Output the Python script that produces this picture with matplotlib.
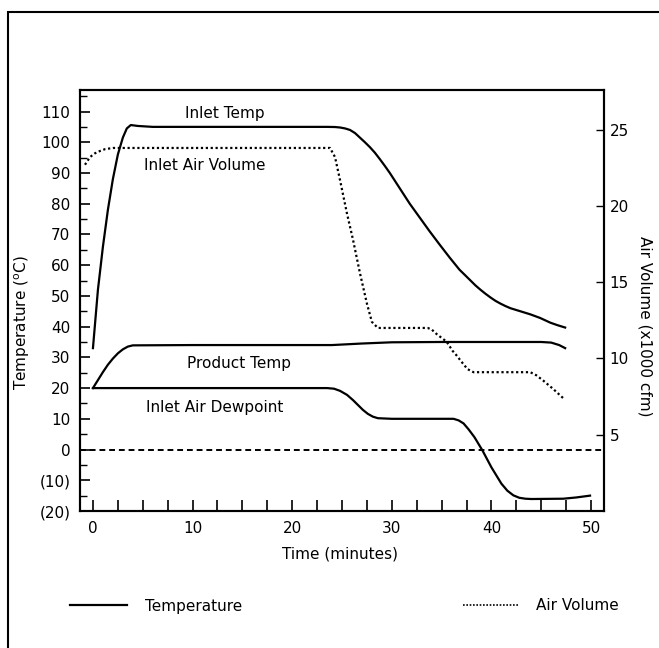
import matplotlib
matplotlib.use("Agg")
import matplotlib.pyplot as plt
from matplotlib.patches import Rectangle
from matplotlib.ticker import FixedLocator, MultipleLocator, FuncFormatter

plt.rcParams['font.family'] = ['DejaVu Sans']
plt.rcParams['font.size'] = 11

# Inlet temperature (deg C) vs time (min)
inlet_t = [0, 0.5, 1.0, 1.5, 2.0, 2.5, 3.0, 3.4, 3.8, 4.5, 6, 10, 20, 23.5, 24.3, 24.8, 25.3, 25.8,
           26.3, 26.8, 27.3, 27.8, 28.3, 28.8, 29.3, 29.8, 30.8, 31.8, 32.8, 33.8, 34.8, 35.8,
           36.8, 37.4, 37.9, 38.4, 38.9, 39.4, 39.9, 40.4, 40.9, 41.4, 41.9, 42.9, 43.9, 44.9,
           45.9, 46.6, 47.4]
inlet_temp = [33, 52, 66, 78, 88, 96, 101.5, 104.5, 105.6, 105.3, 105, 105, 105, 105, 104.95, 104.8,
              104.5, 104, 103, 101.5, 100, 98.4, 96.6, 94.5, 92.3, 90, 85, 80, 75.5, 71, 66.7, 62.5,
              58.5, 56.6, 55, 53.4, 52, 50.7, 49.5, 48.4, 47.5, 46.7, 46, 45, 44, 42.8,
              41.3, 40.5, 39.7]

# Product temperature
prod_t = [0, 0.5, 1.0, 1.5, 2.0, 2.5, 3.0, 3.5, 4.0, 10, 20, 24, 27, 30, 35, 40, 45, 46, 46.8, 47.4]
prod_temp = [20, 22.6, 25.2, 27.6, 29.6, 31.3, 32.6, 33.5, 33.9, 34, 34, 34, 34.5, 34.9, 35, 35, 35,
             34.8, 34, 33]

# Inlet air dewpoint
dew_t = [0, 23.5, 24.2, 24.8, 25.5, 26.1, 26.6, 27.1, 27.6, 28.1, 28.6, 30, 36.2, 36.7, 37.2,
         37.7, 38.3, 39.1, 40.0, 41.0, 41.6, 42.2, 42.8, 43.4, 44.0, 47.2, 48.5, 49.9]
dew_temp = [20, 20, 19.8, 19.1, 17.8, 16.1, 14.5, 12.9, 11.6, 10.7, 10.2, 10, 10, 9.5, 8.5,
            6.6, 4, -0.3, -5.8, -11.1, -13.4, -14.9, -15.7, -16, -16.1, -16, -15.6, -15]

# Inlet air volume (x1000 cfm)
air_t = [-0.8, -0.3, 0.2, 0.7, 1.2, 2.0, 2.4, 23.8, 24.3, 24.8, 25.5, 26.1, 26.8, 27.5, 28.0,
         28.6, 33.6, 34.0, 34.5, 35.5, 36.1, 36.5, 37.1, 37.6, 38.2, 43.9, 44.5, 45.2, 46.2, 47.2]
air_vol = [22.7, 23.2, 23.45, 23.6, 23.72, 23.8, 23.8, 23.8, 23.2, 21.7, 19.5, 17.8, 15.6, 13.6, 12.4,
           12.0, 12.0, 11.9, 11.6, 11.1, 10.5, 10.2, 9.7, 9.3, 9.1, 9.1, 8.9, 8.55, 8.0, 7.4]

temp_ticks = [-20, -10, 0, 10, 20, 30, 40, 50, 60, 70, 80, 90, 100, 110]
air_ticks = [5, 10, 15, 20, 25]
time_ticks = [0, 10, 20, 30, 40, 50]

W, H = 659, 648
fig = plt.figure(figsize=(W / 100, H / 100), dpi=100)
ax = fig.add_axes([80 / W, 1 - 511 / H, 524 / W, 421 / H])
ax2 = ax.twinx()

lw = 1.6
ax.plot(inlet_t, inlet_temp, color='black', lw=lw, solid_joinstyle='round')
ax.plot(prod_t, prod_temp, color='black', lw=lw, solid_joinstyle='round')
ax.plot(dew_t, dew_temp, color='black', lw=lw, solid_joinstyle='round')
ax.axhline(0, color='black', lw=1.4, ls=(0, (3, 2)))
ax2.plot(air_t, air_vol, color='black', lw=1.6, ls=(0, (1, 1.2)))

ax.set_xlim(-1.3, 51.3)
ax.set_ylim(-20, 117)
ax2.set_ylim(0, 27.6)

ax.xaxis.set_major_locator(FixedLocator(time_ticks))
ax.xaxis.set_minor_locator(MultipleLocator(2.5))
ax.yaxis.set_major_locator(FixedLocator(temp_ticks))
ax.yaxis.set_minor_locator(MultipleLocator(5))
ax.yaxis.set_major_formatter(FuncFormatter(lambda v, p: f"({abs(int(v))})" if v < 0 else f"{int(v)}"))
ax2.yaxis.set_major_locator(FixedLocator(air_ticks))

ax.tick_params(axis='x', which='both', direction='in', length=8, width=1.2, pad=7)
ax.tick_params(axis='y', which='major', direction='in', length=7, width=1.2, pad=7)
ax.tick_params(axis='y', which='minor', direction='in', length=5, width=1.0)
ax.tick_params(top=False, right=False, which='both')
ax2.tick_params(axis='y', direction='in', length=6, width=1.0, pad=4)

for a in (ax, ax2):
    for s in a.spines.values():
        s.set_linewidth(1.5)

ax.set_xlabel('Time (minutes)')
ax.xaxis.set_label_coords(0.496, -0.085)
ax.set_ylabel(r'Temperature ($^{\rm o}$C)')
ax.yaxis.set_label_coords(-0.092, 0.447)
ax2.set_ylabel('Air Volume (x1000 cfm)', rotation=-90, va='center')
ax2.yaxis.set_label_coords(1.078, 0.44)

ax.text(13.2, 109.4, 'Inlet Temp', ha='center', va='center')
ax.text(11.2, 92.5, 'Inlet Air Volume', ha='center', va='center')
ax.text(14.7, 28, 'Product Temp', ha='center', va='center')
ax.text(12.2, 13.7, 'Inlet Air Dewpoint', ha='center', va='center')

# legend below the plot
h1 = plt.Line2D([], [], color='black', lw=lw)
h2 = plt.Line2D([], [], color='black', lw=1.2, ls=(0, (1, 1)))
fig.legend([h1], ['Temperature'], loc='center left', bbox_to_anchor=(70 / W, 1 - 606 / H),
           frameon=False, borderpad=0, borderaxespad=0, handlelength=3.7, handletextpad=1.2)
fig.legend([h2], ['Air Volume'], loc='center left', bbox_to_anchor=(463 / W, 1 - 606 / H),
           frameon=False, borderpad=0, borderaxespad=0, handlelength=3.6, handletextpad=1.2)

# outer frame of the scanned page
fig.add_artist(Rectangle((8 / W, -0.1), 1.2, 1.1 - 12 / H, fill=False, lw=1.5,
                         transform=fig.transFigure, clip_on=False))

fig.savefig('out.png', dpi=100)
